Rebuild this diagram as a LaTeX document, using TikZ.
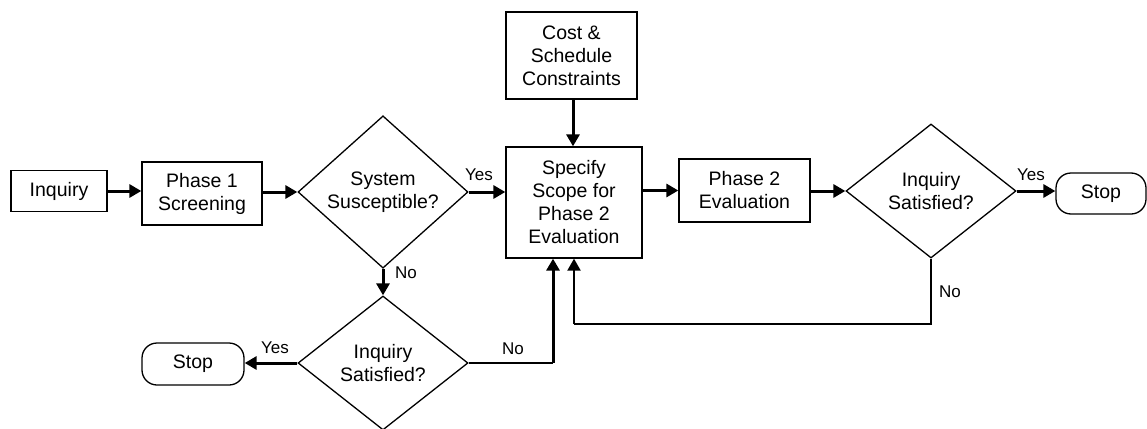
\documentclass[tikz,border=0pt]{standalone}
\usepackage{fontspec}
\setmainfont{Liberation Sans}
\usetikzlibrary{arrows.meta,shapes.geometric}

\tikzset{
  box/.style={draw, line width=1.3pt, align=center, inner sep=0pt},
  decision/.style={draw, diamond, line width=1.3pt, align=center, inner sep=0pt,
    minimum width=170pt, minimum height=134pt},
  terminal/.style={draw, line width=1.3pt, rounded corners=15pt, align=center, inner sep=0pt},
  flow/.style={line width=3pt, -{Triangle[length=12pt,width=13pt]}},
  back/.style={line width=1.5pt}
  ,answer/.style={font=\fontsize{17}{20}\selectfont}
}

\begin{document}
\begin{tikzpicture}[x=1pt, y=-1pt, font=\fontsize{19.5}{23}\selectfont]

    % Page frame (pixel layout of the drawing)
    \useasboundingbox (0,0) rectangle (1147,428);

    % Top row: inquiry and first phase
    \node[box, minimum width=96pt, minimum height=41pt] (inquiry) at (59,191) {Inquiry};
    \node[box, minimum width=120pt, minimum height=63pt] (phaseone) at (202,193.5) {Phase 1\\Screening};
    
    % First decision
    \node[decision] (susceptible) at (383,192) {System\\Susceptible?};
    
    % Scope box and its constraints
    \node[box, minimum width=131pt, minimum height=87pt] (cost) at (571.5,55.5) {Cost \&\\Schedule\\Constraints};
    \node[box, minimum width=136pt, minimum height=111pt] (scope) at (574,202.5) {Specify\\Scope for\\Phase 2\\Evaluation};
    
    % Second phase and its decision
    \node[box, minimum width=131pt, minimum height=63pt] (phasetwo) at (744.5,190.5) {Phase 2\\Evaluation};
    \node[decision] (satisfiedtwo) at (931,191) {Inquiry\\Satisfied?};
    \node[terminal, minimum width=90pt, minimum height=41pt] (stoptwo) at (1101,193.5) {Stop};
    
    % Lower branch after a negative screening
    \node[decision] (satisfiedone) at (383,363) {Inquiry\\Satisfied?};
    \node[terminal, minimum width=102pt, minimum height=42pt] (stopone) at (193,364) {Stop};
    
    % Turning points of the return lines
    \coordinate (leftcorner) at (553,363);
    \coordinate (rightdown) at (931,324);
    \coordinate (rightcorner) at (574,324);
    
    % Main flow
    \draw[flow] (inquiry.east) -- (inquiry.east -| phaseone.west);
    \draw[flow] (phaseone.east |- susceptible.west) -- (susceptible.west);
    \draw[flow] (susceptible.east) -- (susceptible.east -| scope.west);
    \draw[flow] (cost.south -| 573,0) -- (scope.north -| 573,0);
    \draw[flow] (scope.east |- phasetwo.west) -- (phasetwo.west);
    \draw[flow] (phasetwo.east |- satisfiedtwo.west) -- (satisfiedtwo.west);
    \draw[flow] (satisfiedtwo.east) -- (satisfiedtwo.east -| stoptwo.west);
    
    % Lower branch
    \draw[flow] (susceptible.south) -- (satisfiedone.north);
    \draw[flow] (satisfiedone.west) -- (satisfiedone.west -| stopone.east);
    
    % Return lines into the scope box
    \draw[back] (satisfiedone.east) -- (leftcorner);
    \draw[flow] (leftcorner) -- (leftcorner |- scope.south);
    \draw[back] (satisfiedtwo.south) -- (rightdown) -- (rightcorner);
    \draw[flow, line width=2.2pt] (rightcorner) -- (rightcorner |- scope.south);
    
    % Answer labels
    \node[answer] (yesone) at (479,175) {Yes};
    \node[answer] (noone) at (406,273) {No};
    \node[answer] (yestwo) at (275,348) {Yes};
    \node[answer] (notwo) at (513,349) {No};
    \node[answer] (yesthree) at (1031,175) {Yes};
    \node[answer] (nothree) at (950,292) {No};
    
\end{tikzpicture}
\end{document}
